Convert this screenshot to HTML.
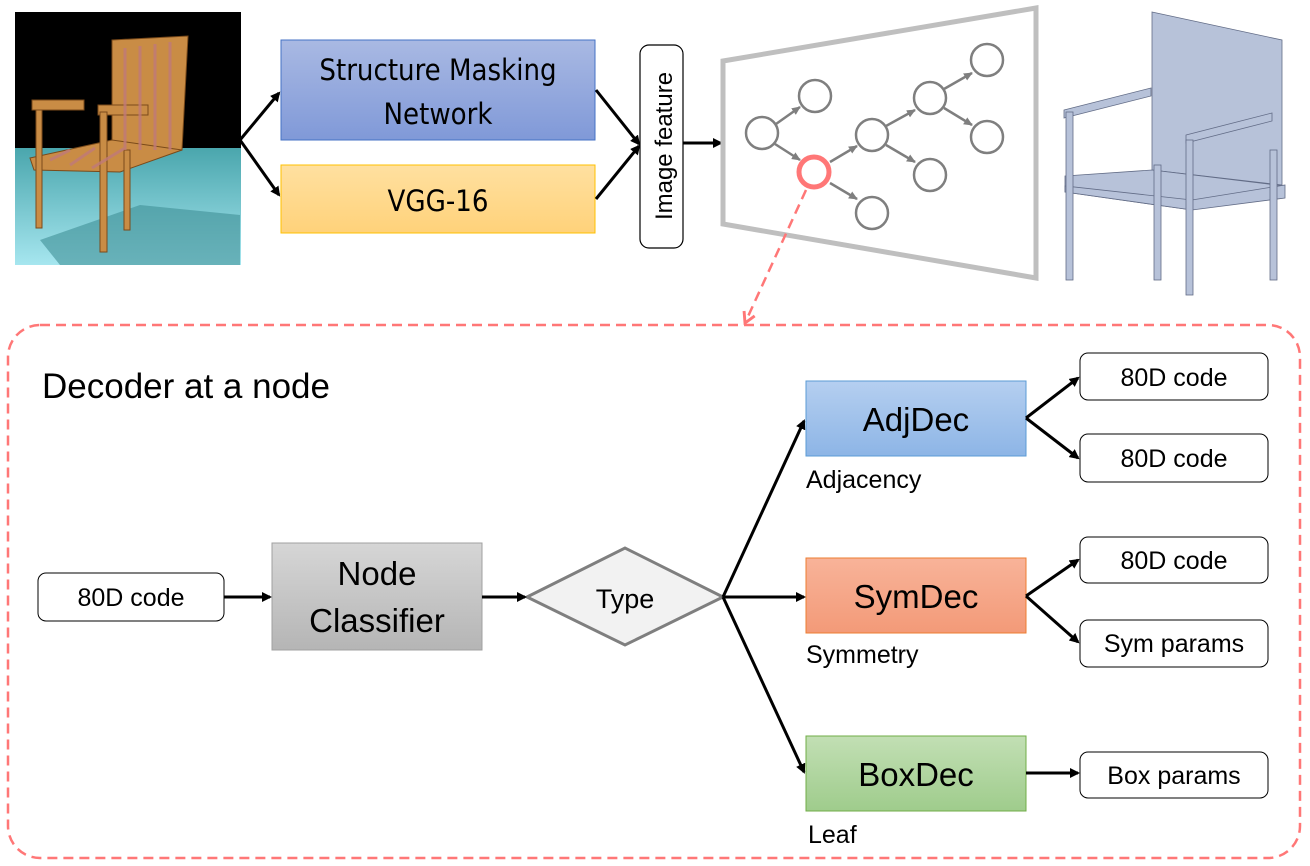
<!DOCTYPE html>
<html><head><meta charset="utf-8"><style>
body{margin:0;background:#fff;}
svg{display:block;font-family:"Liberation Sans","DejaVu Sans",sans-serif;}
</style></head><body>
<svg width="1310" height="866" viewBox="0 0 1310 866" xmlns="http://www.w3.org/2000/svg">
<defs>
<marker id="ah" markerWidth="10" markerHeight="10" refX="8" refY="5" orient="auto" markerUnits="userSpaceOnUse"><path d="M0,0 L10,5 L0,10 z" fill="#000"/></marker>
<marker id="ag" markerWidth="10" markerHeight="10" refX="8" refY="5" orient="auto" markerUnits="userSpaceOnUse"><path d="M0,1 L9,5 L0,9 z" fill="#7f7f7f"/></marker>
<marker id="ar" viewBox="0 0 12 12" markerWidth="14" markerHeight="14" refX="10" refY="6" orient="auto" markerUnits="userSpaceOnUse"><path d="M1,1 L10,6 L1,11" fill="none" stroke="#f77" stroke-width="2.5"/></marker>
<linearGradient id="gb" x1="0" y1="0" x2="0" y2="1"><stop offset="0" stop-color="#a9b9e3"/><stop offset="1" stop-color="#8099d8"/></linearGradient>
<linearGradient id="go" x1="0" y1="0" x2="0" y2="1"><stop offset="0" stop-color="#ffe0a0"/><stop offset="1" stop-color="#ffd27a"/></linearGradient>
<linearGradient id="gb2" x1="0" y1="0" x2="0" y2="1"><stop offset="0" stop-color="#b5cff0"/><stop offset="1" stop-color="#8db5e6"/></linearGradient>
<linearGradient id="gs" x1="0" y1="0" x2="0" y2="1"><stop offset="0" stop-color="#f8b399"/><stop offset="1" stop-color="#f39a78"/></linearGradient>
<linearGradient id="gg" x1="0" y1="0" x2="0" y2="1"><stop offset="0" stop-color="#c2dfb4"/><stop offset="1" stop-color="#9fcc8c"/></linearGradient>
<linearGradient id="gn" x1="0" y1="0" x2="0" y2="1"><stop offset="0" stop-color="#d6d6d6"/><stop offset="1" stop-color="#b5b5b5"/></linearGradient>
<linearGradient id="fl" x1="0" y1="0" x2="0" y2="1"><stop offset="0" stop-color="#4aa6ad"/><stop offset="1" stop-color="#a6e6ef"/></linearGradient>
</defs>

<!-- chair photo -->
<rect x="15" y="12" width="226" height="253" fill="#000"/>
<rect x="15" y="148" width="226" height="117" fill="url(#fl)"/>
<polygon points="40,240 140,205 240,215 240,265 60,265" fill="#3f8f96" opacity="0.6"/>
<g fill="#c98c45" stroke="#7a4a1a" stroke-width="1">
<polygon points="112,40 188,36 182,150 112,158"/>
<rect x="32" y="100" width="52" height="10"/>
<rect x="98" y="105" width="50" height="10"/>
<polygon points="30,158 112,140 182,150 120,172 34,170"/>
<rect x="36" y="110" width="6" height="118"/>
<rect x="100" y="112" width="7" height="140"/>
<rect x="124" y="150" width="6" height="80"/>
</g>
<g stroke="#c07a7a" stroke-width="3" opacity="0.8">
<line x1="125" y1="48" x2="125" y2="150"/><line x1="140" y1="46" x2="140" y2="150"/><line x1="155" y1="44" x2="155" y2="150"/><line x1="170" y1="42" x2="170" y2="150"/>
<line x1="50" y1="160" x2="70" y2="150"/><line x1="70" y1="165" x2="95" y2="148"/><line x1="92" y1="168" x2="125" y2="148"/>
</g>

<!-- boxes top -->
<rect x="281" y="40" width="314" height="100" fill="url(#gb)" stroke="#4472c4" stroke-width="1"/>
<text x="438" y="80" font-size="29" text-anchor="middle" font-family="DejaVu Sans Condensed, Liberation Sans Narrow, sans-serif">Structure Masking</text>
<text x="438" y="124" font-size="29" text-anchor="middle" font-family="DejaVu Sans Condensed, Liberation Sans Narrow, sans-serif">Network</text>
<rect x="281" y="165" width="314" height="68" fill="url(#go)" stroke="#ffc000" stroke-width="1"/>
<text x="438" y="211" font-size="29" text-anchor="middle" font-family="DejaVu Sans Condensed, Liberation Sans Narrow, sans-serif">VGG-16</text>
<rect x="640" y="45" width="43" height="203" rx="9" fill="#fff" stroke="#000" stroke-width="1.2"/>
<text transform="translate(672,146) rotate(-90)" font-size="24" text-anchor="middle">Image feature</text>

<g stroke="#000" stroke-width="3" fill="none" marker-end="url(#ah)">
<line x1="240" y1="140" x2="279" y2="93"/>
<line x1="240" y1="140" x2="279" y2="195"/>
<line x1="596" y1="90" x2="639" y2="144"/>
<line x1="596" y1="199" x2="639" y2="146"/>
<line x1="683" y1="143" x2="721" y2="143"/>
</g>

<!-- trapezoid graph -->
<polygon points="723,61 1036,8 1036,278 723,224" fill="none" stroke="#bfbfbf" stroke-width="5"/>
<g stroke="#7f7f7f" stroke-width="2.5" fill="none" marker-end="url(#ag)">
<line x1="776" y1="124" x2="800" y2="107"/>
<line x1="775" y1="144" x2="800" y2="160"/>
<line x1="830" y1="162" x2="857" y2="146"/>
<line x1="830" y1="183" x2="857" y2="199"/>
<line x1="886" y1="126" x2="915" y2="110"/>
<line x1="886" y1="145" x2="915" y2="162"/>
<line x1="944" y1="89" x2="972" y2="73"/>
<line x1="944" y1="108" x2="972" y2="125"/>
</g>
<g stroke="#7f7f7f" stroke-width="2.5" fill="#fff">
<circle cx="762" cy="133" r="16"/>
<circle cx="815" cy="96" r="16"/>
<circle cx="872" cy="135" r="16"/>
<circle cx="872" cy="213" r="16"/>
<circle cx="930" cy="98" r="16"/>
<circle cx="930" cy="175" r="16"/>
<circle cx="987" cy="60" r="16"/>
<circle cx="987" cy="137" r="16"/>
</g>
<circle cx="814" cy="172" r="15" fill="#fff" stroke="#f77" stroke-width="5"/>
<line x1="806" y1="190" x2="745" y2="323" stroke="#f77" stroke-width="2.5" stroke-dasharray="10,6" marker-end="url(#ar)"/>

<!-- 3D chair -->
<g fill="#b4bfd8" stroke="#5a6580" stroke-width="0.8" opacity="0.95">
<polygon points="1152,12 1282,40 1282,185 1152,170"/>
<polygon points="1065,176 1152,170 1285,186 1192,210 1065,192"/>
<polygon points="1065,192 1192,210 1285,198 1285,185 1192,200 1065,186"/>
<polygon points="1064,110 1151,88 1151,96 1064,118"/>
<polygon points="1186,135 1272,113 1272,121 1186,143"/>
<rect x="1066" y="112" width="7" height="168"/>
<rect x="1186" y="140" width="7" height="155"/>
<rect x="1270" y="150" width="7" height="130"/>
<rect x="1154" y="165" width="7" height="115"/>
</g>

<!-- big dashed box -->
<rect x="8" y="325" width="1292" height="533" rx="32" fill="none" stroke="#f77" stroke-width="2.5" stroke-dasharray="10,6"/>
<text x="42" y="398" font-size="35">Decoder at a node</text>

<rect x="38" y="573" width="186" height="48" rx="8" fill="#fff" stroke="#000" stroke-width="1"/>
<text x="131" y="606" font-size="25" text-anchor="middle">80D code</text>
<rect x="272" y="543" width="210" height="107" fill="url(#gn)" stroke="#a0a0a0" stroke-width="1"/>
<text x="377" y="585" font-size="33" text-anchor="middle">Node</text>
<text x="377" y="632" font-size="33" text-anchor="middle">Classifier</text>
<polygon points="527,597 625,548 723,597 625,645" fill="#f2f2f2" stroke="#7f7f7f" stroke-width="3"/>
<text x="625" y="608" font-size="27" text-anchor="middle">Type</text>

<rect x="806" y="381" width="220" height="75" fill="url(#gb2)" stroke="#5b9bd5" stroke-width="1"/>
<text x="916" y="431" font-size="33" text-anchor="middle">AdjDec</text>
<text x="806" y="488" font-size="25">Adjacency</text>
<rect x="806" y="558" width="220" height="75" fill="url(#gs)" stroke="#ed7d31" stroke-width="1"/>
<text x="916" y="608" font-size="33" text-anchor="middle">SymDec</text>
<text x="806" y="663" font-size="25">Symmetry</text>
<rect x="806" y="736" width="220" height="75" fill="url(#gg)" stroke="#70ad47" stroke-width="1"/>
<text x="916" y="786" font-size="33" text-anchor="middle">BoxDec</text>
<text x="808" y="843" font-size="25">Leaf</text>

<g fill="#fff" stroke="#000" stroke-width="1">
<rect x="1080" y="353" width="188" height="47" rx="8"/>
<rect x="1080" y="434" width="188" height="48" rx="8"/>
<rect x="1080" y="537" width="188" height="46" rx="8"/>
<rect x="1080" y="620" width="188" height="47" rx="8"/>
<rect x="1080" y="752" width="188" height="46" rx="8"/>
</g>
<g font-size="25" text-anchor="middle">
<text x="1174" y="386">80D code</text>
<text x="1174" y="467">80D code</text>
<text x="1174" y="569">80D code</text>
<text x="1174" y="652">Sym params</text>
<text x="1174" y="784">Box params</text>
</g>

<g stroke="#000" stroke-width="3" fill="none" marker-end="url(#ah)">
<line x1="224" y1="597" x2="270" y2="597"/>
<line x1="482" y1="597" x2="525" y2="597"/>
<line x1="723" y1="597" x2="804" y2="421"/>
<line x1="723" y1="597" x2="804" y2="597"/>
<line x1="723" y1="597" x2="804" y2="772"/>
<line x1="1026" y1="418" x2="1078" y2="378"/>
<line x1="1026" y1="418" x2="1078" y2="458"/>
<line x1="1026" y1="596" x2="1078" y2="560"/>
<line x1="1026" y1="596" x2="1078" y2="642"/>
<line x1="1026" y1="773" x2="1078" y2="773"/>
</g>
</svg>
</body></html>
